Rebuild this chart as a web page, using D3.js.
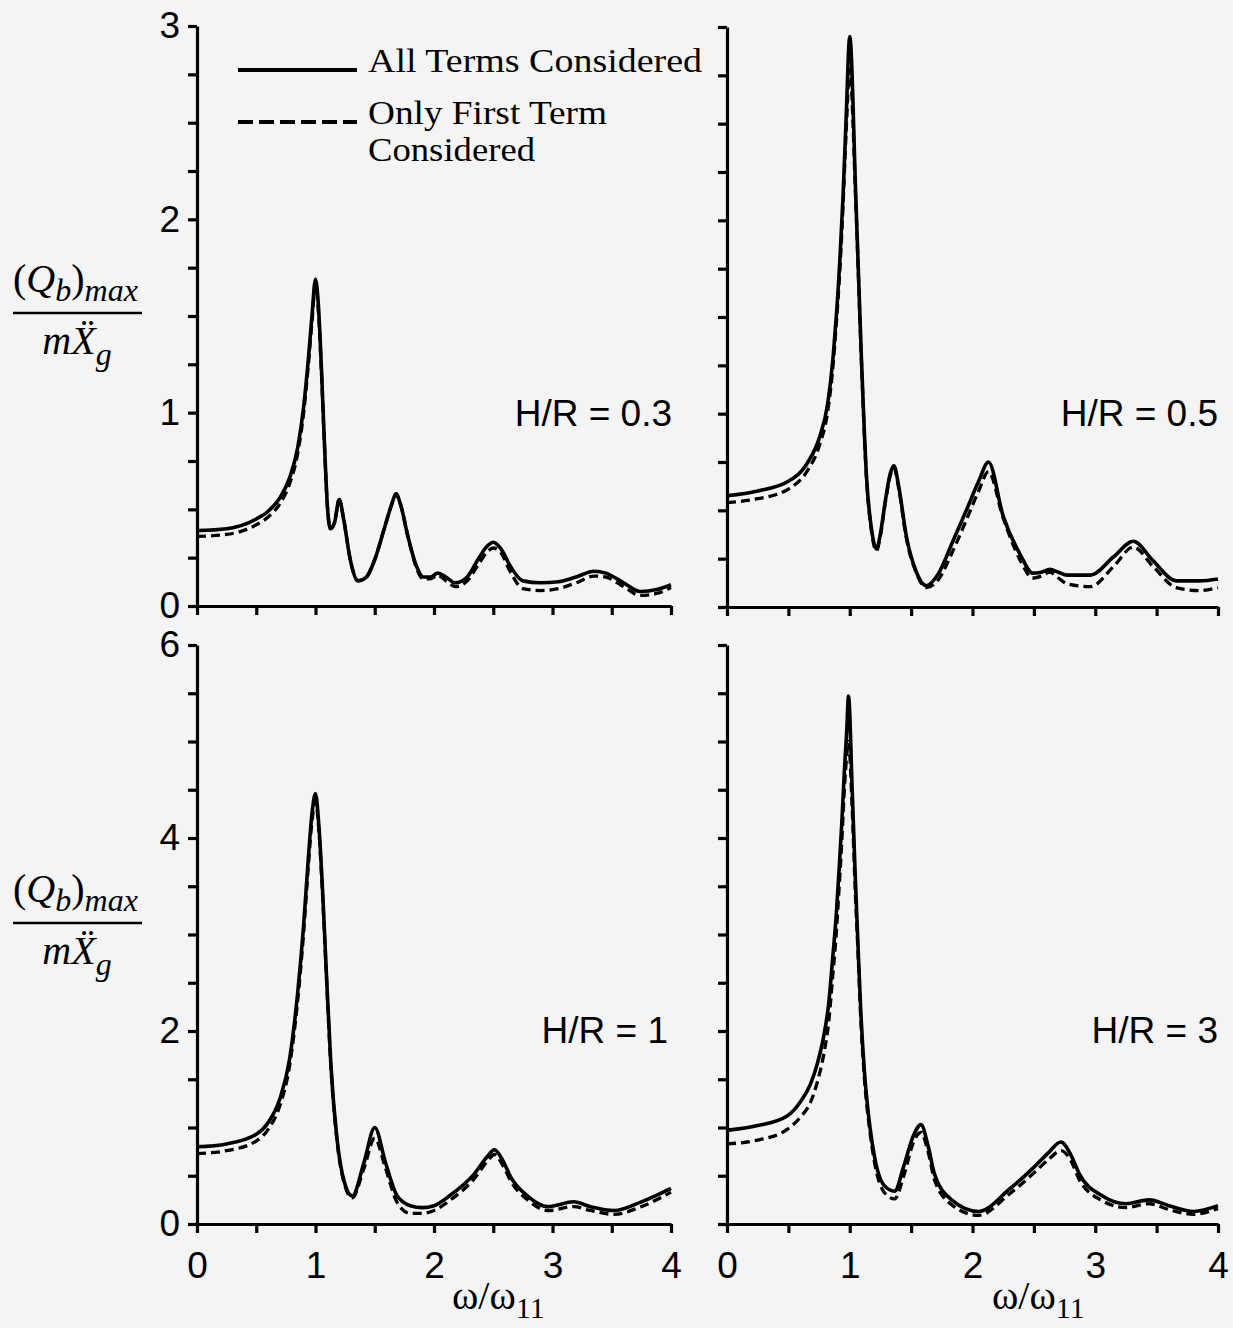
<!DOCTYPE html>
<html><head><meta charset="utf-8">
<script src="https://cdn.jsdelivr.net/npm/d3@7"></script>
<style>
html,body{margin:0;padding:0;background:#f4f4f4;}
svg{display:block;}
</style></head><body>
<svg id="chart" width="1233" height="1328"></svg>
<script>
// ---------- data ----------
// H/R = 0.3
const hr03X     = [0,0.25,0.5,0.6,0.7,0.78,0.85,0.9,0.94,0.97, 1.0,1.025,1.05,1.075,1.1,1.125,1.16,1.2,1.24,1.29, 1.36,1.43,1.5,1.58,1.64,1.68,1.72,1.78,1.85,1.91, 1.97,2.03,2.1,2.18,2.28,2.38,2.45,2.5,2.56,2.65, 2.75,2.9,3.05,3.2,3.35,3.45,3.6,3.74,3.88,4.0];
const hr03All   = [0.39,0.40,0.45,0.49,0.56,0.66,0.82,1.03,1.28,1.50, 1.69,1.55,1.23,0.85,0.52,0.40,0.43,0.55,0.44,0.25, 0.13,0.15,0.24,0.40,0.52,0.58,0.52,0.36,0.21,0.15, 0.15,0.17,0.15,0.12,0.15,0.25,0.31,0.33,0.30,0.20, 0.13,0.12,0.125,0.15,0.18,0.17,0.12,0.075,0.085,0.11];
const hr03First = [0.36,0.37,0.42,0.46,0.53,0.63,0.79,1.00,1.25,1.47, 1.66,1.52,1.21,0.84,0.52,0.40,0.43,0.55,0.44,0.25, 0.13,0.15,0.24,0.40,0.52,0.58,0.52,0.36,0.20,0.14, 0.14,0.16,0.13,0.10,0.13,0.22,0.28,0.30,0.28,0.17, 0.09,0.08,0.09,0.12,0.155,0.15,0.10,0.055,0.065,0.095];
// H/R = 0.5
const hr05X     = [0,0.25,0.5,0.65,0.755,0.82,0.864,0.89,0.92,0.945, 0.97,1.0,1.05,1.095,1.136,1.18,1.217,1.25,1.29,1.33, 1.36,1.4,1.46,1.54,1.625,1.72,1.84,1.95,2.05,2.13, 2.25,2.39,2.49,2.56,2.63,2.7,2.77,2.96,3.15,3.31, 3.47,3.66,3.85,4.0];
const hr05All   = [0.575,0.60,0.65,0.74,0.88,1.05,1.29,1.50,1.80,2.12, 2.52,2.95,2.11,1.29,0.68,0.39,0.30,0.38,0.55,0.69, 0.73,0.62,0.37,0.185,0.11,0.17,0.34,0.50,0.65,0.75, 0.47,0.27,0.175,0.18,0.195,0.18,0.165,0.165,0.26,0.34, 0.24,0.135,0.135,0.145];
const hr05First = [0.54,0.56,0.61,0.70,0.84,1.01,1.25,1.46,1.75,2.07, 2.45,2.78,2.08,1.27,0.67,0.38,0.29,0.37,0.54,0.68, 0.72,0.61,0.36,0.18,0.10,0.14,0.29,0.45,0.60,0.70, 0.46,0.24,0.15,0.16,0.18,0.15,0.12,0.105,0.21,0.31, 0.21,0.10,0.085,0.10];
// H/R = 1
const hr1X      = [0,0.25,0.5,0.6,0.7,0.78,0.85,0.9,0.94,0.97, 1.0,1.03,1.06,1.09,1.13,1.18,1.24,1.31,1.41,1.5, 1.59,1.69,1.8,1.9,2.0,2.14,2.34,2.45,2.51,2.58, 2.65,2.79,2.96,3.18,3.32,3.52,3.75,4.0];
const hr1All    = [0.80,0.83,0.93,1.05,1.30,1.70,2.40,3.10,3.80,4.25, 4.46,4.10,3.45,2.65,1.65,0.90,0.45,0.29,0.64,1.00, 0.64,0.29,0.19,0.17,0.19,0.30,0.52,0.70,0.77,0.66, 0.48,0.29,0.18,0.23,0.18,0.14,0.23,0.37];
const hr1First  = [0.73,0.76,0.86,0.98,1.23,1.63,2.32,3.02,3.72,4.17, 4.38,4.05,3.40,2.62,1.62,0.88,0.43,0.27,0.58,0.89, 0.58,0.22,0.11,0.11,0.14,0.25,0.47,0.65,0.72,0.61, 0.44,0.25,0.14,0.18,0.14,0.10,0.18,0.33];
// H/R = 3
const hr3X      = [0,0.25,0.49,0.6,0.68,0.74,0.79,0.83,0.86,0.89, 0.915,0.935,0.956,0.975,0.99,1.02,1.045,1.066,1.09,1.12, 1.16,1.2,1.28,1.366,1.44,1.52,1.58,1.64,1.69,1.83, 2.05,2.3,2.51,2.62,2.72,2.8,2.87,3.06,3.25,3.44, 3.6,3.8,4.0];
const hr3All    = [0.97,1.02,1.12,1.27,1.45,1.68,1.96,2.30,2.74,3.20, 3.71,4.15,4.69,5.10,5.47,4.50,3.60,2.93,2.20,1.57, 1.05,0.71,0.40,0.34,0.60,0.92,1.03,0.80,0.52,0.25, 0.13,0.36,0.60,0.74,0.85,0.72,0.52,0.29,0.21,0.25, 0.19,0.13,0.19];
const hr3First  = [0.83,0.87,0.98,1.11,1.26,1.49,1.77,2.11,2.55,3.01, 3.52,3.96,4.50,4.85,5.00,4.30,3.45,2.85,2.12,1.50, 1.00,0.65,0.33,0.26,0.50,0.85,0.95,0.74,0.46,0.20, 0.09,0.31,0.54,0.67,0.76,0.66,0.46,0.24,0.17,0.21, 0.15,0.10,0.16];

// ticks and labels
const xTickValues   = [0,0.5,1,1.5,2,2.5,3,3.5,4];
const xLabelValues  = [0,1,2,3,4];
const yTicksTop     = [0,0.25,0.5,0.75,1,1.25,1.5,1.75,2,2.25,2.5,2.75,3];
const yLabelsTop    = [0,1,2,3];
const yTicksBottom  = [0,0.5,1,1.5,2,2.5,3,3.5,4,4.5,5,5.5,6];
const yLabelsBottom = [0,2,4,6];
const panelLabels   = ["H/R = 0.3","H/R = 0.5","H/R = 1","H/R = 3"];
const legendLabels  = ["All Terms Considered","Only First Term","Considered"];

// ---------- drawing ----------
const SANS = "'Liberation Sans', Arial, Helvetica, sans-serif";
const SERIF = "'Liberation Serif', 'Times New Roman', Times, serif";
const svg = d3.select("#chart");
svg.append("rect").attr("width",1233).attr("height",1328).attr("fill","#f4f4f4");

const panels = [
  {xs:hr03X, all:hr03All, first:hr03First, label:panelLabels[0], xr:[197,671], yr:[606,26],  ymax:3, yT:yTicksTop,    yL:yLabelsTop,    showY:true,  showX:false, labY:426, labX:672},
  {xs:hr05X, all:hr05All, first:hr05First, label:panelLabels[1], xr:[727,1218], yr:[607,27], ymax:3, yT:yTicksTop,    yL:yLabelsTop,    showY:false, showX:false, labY:426, labX:1218},
  {xs:hr1X,  all:hr1All,  first:hr1First,  label:panelLabels[2], xr:[197,671], yr:[1224,645], ymax:6, yT:yTicksBottom, yL:yLabelsBottom, showY:true,  showX:true,  labY:1043, labX:668},
  {xs:hr3X,  all:hr3All,  first:hr3First,  label:panelLabels[3], xr:[727,1218], yr:[1224,645], ymax:6, yT:yTicksBottom, yL:yLabelsBottom, showY:false, showX:true,  labY:1043, labX:1218}
];

function styleAxis(sel){
  sel.select(".domain").attr("stroke","#000").attr("stroke-width",3.2);
  sel.selectAll(".tick line").attr("stroke","#000").attr("stroke-width",3.2);
  sel.selectAll(".tick text").attr("fill","#000").style("font-family",SANS).style("font-size","37px");
}

panels.forEach(p => {
  const x = d3.scaleLinear().domain([0,4]).range(p.xr);
  const y = d3.scaleLinear().domain([0,p.ymax]).range(p.yr);
  const g = svg.append("g");

  const xa = d3.axisBottom(x).tickValues(xTickValues).tickSize(9).tickSizeOuter(0).tickPadding(19)
      .tickFormat(d => (p.showX && xLabelValues.includes(d)) ? d : "");
  g.append("g").attr("transform",`translate(0,${y(0)})`).call(xa).call(styleAxis);

  const ya = d3.axisLeft(y).tickValues(p.yT).tickSize(9).tickSizeOuter(0).tickPadding(8)
      .tickFormat(d => (p.showY && p.yL.includes(d)) ? d : "");
  g.append("g").attr("transform",`translate(${x(0)},0)`).call(ya).call(styleAxis);

  const line = d3.line().x((d,i)=>x(p.xs[i])).y(d=>y(d)).curve(d3.curveMonotoneX);
  g.append("path").attr("d",line(p.first)).attr("fill","none").attr("stroke","#000")
    .attr("stroke-width",3.3).attr("stroke-dasharray","9,5");
  g.append("path").attr("d",line(p.all)).attr("fill","none").attr("stroke","#000")
    .attr("stroke-width",3.6).attr("stroke-linejoin","round");

  g.append("text").attr("x",p.labX).attr("y",p.labY).attr("text-anchor","end")
    .style("font-family",SANS).style("font-size","37px").attr("fill","#000").text(p.label);
});

// legend
const lg = svg.append("g");
lg.append("line").attr("x1",238).attr("x2",357).attr("y1",70).attr("y2",70).attr("stroke","#000").attr("stroke-width",3.8);
lg.append("line").attr("x1",238).attr("x2",357).attr("y1",122).attr("y2",122).attr("stroke","#000").attr("stroke-width",3.8).attr("stroke-dasharray","15,6");
[[legendLabels[0],72,334],[legendLabels[1],124,239],[legendLabels[2],161,167]].forEach(([t,yy,w])=>{
  lg.append("text").attr("x",368).attr("y",yy).attr("textLength",w).attr("lengthAdjust","spacingAndGlyphs")
    .style("font-family",SERIF).style("font-size","34px").attr("fill","#000").text(t);
});

// y-axis titles (fraction)
[0,610].forEach(off => {
  const t = svg.append("g").attr("transform",`translate(0,${off})`);
  const num = t.append("text").attr("x",13).attr("y",292).style("font-family",SERIF).style("font-size","40px").attr("fill","#000");
  num.append("tspan").text("(");
  num.append("tspan").style("font-style","italic").text("Q");
  num.append("tspan").attr("dy",9).style("font-style","italic").style("font-size","32px").text("b");
  num.append("tspan").attr("dy",-9).text(")");
  num.append("tspan").attr("dy",9).style("font-style","italic").style("font-size","32px").text("max");
  t.append("line").attr("x1",13).attr("x2",142).attr("y1",313).attr("y2",313).attr("stroke","#000").attr("stroke-width",2.6);
  const den = t.append("text").attr("x",77).attr("y",354).attr("text-anchor","middle").style("font-family",SERIF).style("font-size","40px").attr("fill","#000");
  den.append("tspan").style("font-style","italic").text("mX\u0308");
  den.append("tspan").attr("dy",11).style("font-style","italic").style("font-size","32px").text("g");
});

// x-axis titles
[452,992].forEach(x0 => {
  const t = svg.append("text").attr("x",x0).attr("y",1309).style("font-family",SERIF).style("font-size","40px").attr("fill","#000");
  t.append("tspan").text("\u03C9/\u03C9");
  t.append("tspan").attr("dy",9).style("font-size","30px").text("11");
});
</script>
</body></html>
